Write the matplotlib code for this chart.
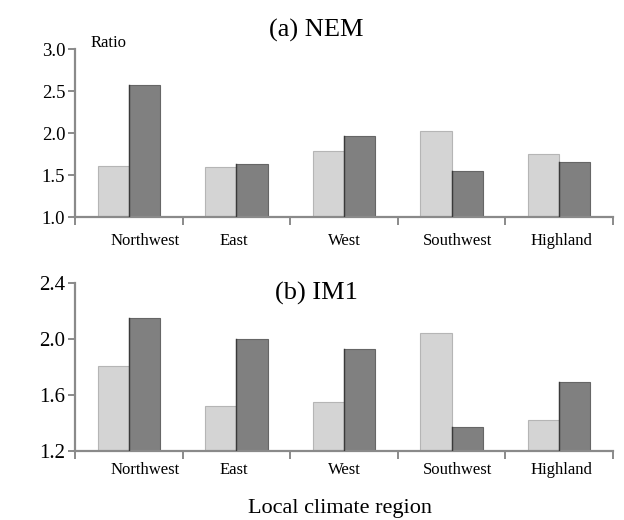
import matplotlib
matplotlib.use('Agg')
import matplotlib.pyplot as plt
import matplotlib.transforms as mtransforms
import numpy as np

plt.rcParams['font.family'] = ['Liberation Serif', 'DejaVu Serif']

regions = ['Northwest', 'East', 'West', 'Southwest', 'Highland']

# (a) NEM
nem_light = [1.61, 1.60, 1.78, 2.02, 1.75]
nem_dark = [2.57, 1.63, 1.97, 1.55, 1.65]

# (b) IM1
im1_light = [1.81, 1.52, 1.55, 2.04, 1.42]
im1_dark = [2.15, 2.00, 1.93, 1.37, 1.69]

nem_ticks = [1.0, 1.5, 2.0, 2.5, 3.0]
im1_ticks = [1.2, 1.6, 2.0, 2.4]

label_shift = [0.15, -0.02, 0.0, 0.06, 0.02]

W, H = 624, 520
fig = plt.figure(figsize=(W / 100, H / 100), dpi=100)
fig.patch.set_facecolor('white')

axis_col = '#8a8a8a'
light_col = '#d4d4d4'
dark_col = '#808080'
bw = 0.29


def panel(rect, light, dark, yticks, title, title_y, tick_fs, lab_off):
    ax = fig.add_axes(rect)
    x = np.arange(len(regions)) + 0.5
    ax.bar(x - bw / 2, np.array(light) - yticks[0], bw, bottom=yticks[0],
           color=light_col, edgecolor='#b5b5b5', linewidth=0.8, zorder=2)
    ax.bar(x + bw / 2, np.array(dark) - yticks[0], bw, bottom=yticks[0],
           color=dark_col, edgecolor='#666666', linewidth=0.8, zorder=2)
    # darker seam on the left side of the dark bars
    for xi, v in zip(x, dark):
        ax.plot([xi, xi], [yticks[0], v], color='#3a3a3a', lw=1.0, zorder=3)
    ax.set_xlim(0, len(regions))
    ax.set_ylim(yticks[0], yticks[-1])
    ax.set_yticks(yticks)
    ax.set_yticklabels(['%.1f' % t for t in yticks], fontsize=tick_fs)
    ax.set_xticks(np.arange(len(regions) + 1))
    ax.set_xticklabels([])
    for s in ['top', 'right']:
        ax.spines[s].set_visible(False)
    for s in ['left', 'bottom']:
        ax.spines[s].set_color(axis_col)
        ax.spines[s].set_linewidth(1.6)
    ax.tick_params(axis='y', length=5, width=1.4, color=axis_col, pad=2)
    ax.tick_params(axis='x', length=6, width=1.4, color=axis_col)
    trans = mtransforms.blended_transform_factory(ax.transData, fig.transFigure)
    for xi, name, sh in zip(x, regions, label_shift):
        ax.text(xi + sh, lab_off, name, transform=trans, ha='center',
                va='center', fontsize=12)
    fig.text(316 / W, 1 - title_y / H, title, ha='center', va='center',
             fontsize=19)
    return ax


panel([75 / W, 1 - 217 / H, 538 / W, 168 / H], nem_light, nem_dark,
      nem_ticks, '(a) NEM', 30, 13.5, 1 - 241 / H)
panel([75 / W, 1 - 451 / H, 538 / W, 168 / H], im1_light, im1_dark,
      im1_ticks, '(b) IM1', 293, 15, 1 - 470 / H)

fig.text(91 / W, 1 - 43 / H, 'Ratio', ha='left', va='center', fontsize=12)
fig.text(340 / W, 1 - 509 / H, 'Local climate region', ha='center',
         va='center', fontsize=16)

fig.savefig('out.png', dpi=100)
